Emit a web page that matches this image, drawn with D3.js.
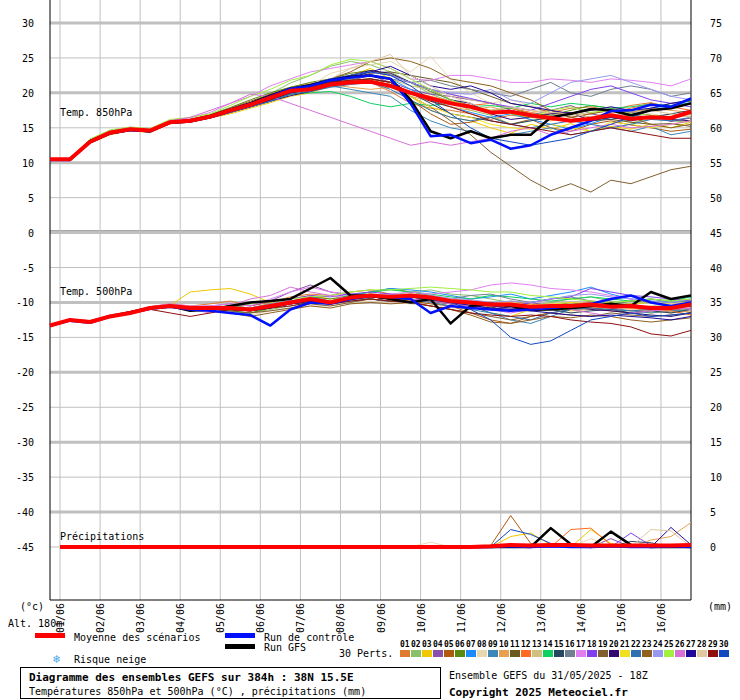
<!DOCTYPE html>
<html>
<head>
<meta charset="utf-8">
<script src="https://cdn.jsdelivr.net/npm/d3@7"></script>
<style>
body { margin:0; background:#fff; }
text { font-family:"DejaVu Sans Mono", monospace; font-size:10px; fill:#000; }
</style>
</head>
<body>
<svg id="chart" width="740" height="700"></svg>
<script>
// time steps every 12h from 31/05 18Z (0h) to 384h
var hours = d3.range(0, 385, 12);
var days = ["01/06","02/06","03/06","04/06","05/06","06/06","07/06","08/06","09/06","10/06","11/06","12/06","13/06","14/06","15/06","16/06"];
var leftTicks = [30,25,20,15,10,5,0,-5,-10,-15,-20,-25,-30,-35,-40,-45];
var rightTicks = [75,70,65,60,55,50,45,40,35,30,25,20,15,10,5,0];
var memberColors = ["#e07a30","#8bc06a","#f0c800","#8a4fa8","#b05a10","#5a8a10","#1a8cff","#e8d8b0","#3a88b8","#e8a050",
  "#6a5a20","#ff6a20","#d0c080","#10d060","#284860","#708090","#e080f0","#8040f0","#806030","#300870",
  "#f0e020","#3070b0","#906020","#9898f0","#a0f040","#d870d8","#200898","#e0c8a0","#901010","#1048c0"];

// 850 hPa
var mean850 = [10.5,10.5,13,14.3,14.8,14.6,15.8,16,16.6,17.5,18.3,19.3,20.3,20.5,21.2,21.5,21.6,21,20,19.2,18.5,18,17.2,17.3,16.8,16.4,16,16.3,16.8,16.3,16.5,16.4,17.3];
var ctrl850 = [10.4,10.4,13.0,14.2,14.7,14.5,15.8,16.0,16.6,17.5,18.4,19.5,20.6,21.0,21.8,22.2,22.5,22.0,18.5,13.8,14.0,12.8,13.3,12.0,12.5,14.0,15.0,16.0,17.4,17.5,18.3,18.0,19.2];
var gfs850 = [10.5,10.5,13.1,14.3,14.8,14.6,15.8,16.0,16.7,17.6,18.5,19.6,20.6,21.1,21.8,22.3,22.5,22.0,19.0,14.5,13.5,14.5,13.5,14.0,14.0,16.5,17.0,17.7,17.5,16.8,17.5,17.8,18.5];
var members850 = [
[10.4,10.6,13.2,14.5,14.7,14.4,15.9,16.2,16.8,17.8,18.6,19.8,20.8,21.3,22.0,22.4,21.5,20.2,18.5,17.8,17.5,17.0,16.2,16.8,16.5,17.2,17.8,18.0,17.5,18.2,18.6,17.9,18.4],
[10.6,10.4,13.4,14.2,15.0,14.8,16.0,16.1,16.7,17.3,18.5,19.9,21.4,22.5,23.8,24.5,24.0,23.0,21.5,19.8,18.8,17.5,16.8,15.5,16.0,16.5,15.8,16.2,16.9,15.7,16.3,16.0,15.8],
[10.3,10.5,12.8,14.0,14.6,14.3,15.6,15.8,16.4,17.0,17.8,18.6,19.5,20.0,21.0,22.5,23.5,22.0,19.5,17.5,16.5,16.0,15.0,14.2,15.5,14.8,15.6,14.5,15.2,14.8,15.5,15.0,15.8],
[10.5,10.3,13.1,14.4,14.9,14.7,15.7,16.0,16.5,17.6,18.0,18.8,19.8,20.2,21.0,21.8,22.5,21.5,20.5,19.8,19.5,19.0,18.6,17.5,16.8,17.5,18.2,17.0,16.5,17.2,16.8,15.9,16.4],
[10.4,10.5,12.9,14.3,14.8,14.5,15.8,15.9,16.6,17.4,18.2,19.0,20.0,20.4,21.4,21.8,22.0,21.5,19.0,17.0,15.5,15.8,16.5,15.5,16.2,15.0,14.5,15.5,16.0,15.4,15.0,14.5,14.8],
[10.6,10.6,13.3,14.6,15.0,14.8,16.0,16.2,16.9,17.9,19.0,20.0,20.8,21.5,22.0,22.8,23.2,22.6,21.5,20.2,19.0,18.2,17.5,17.8,17.0,16.8,17.5,18.2,17.8,17.2,17.8,18.5,18.8],
[10.5,10.4,13.0,14.2,14.7,14.6,15.9,16.1,16.5,17.5,18.4,19.5,20.5,21.0,21.5,22.0,22.5,22.0,20.5,19.0,18.0,17.2,16.5,17.0,16.2,15.5,14.8,15.6,16.5,17.2,17.8,18.2,18.6],
[10.3,10.5,12.9,14.1,14.6,14.5,15.7,15.9,16.7,17.2,18.2,19.0,20.2,21.0,22.8,23.5,24.0,24.5,23.0,25.2,22.0,20.0,18.5,19.0,18.2,17.5,16.8,17.5,18.0,17.5,17.0,16.5,16.8],
[10.5,10.5,13.1,14.4,14.9,14.6,15.9,16.0,16.6,17.6,18.5,19.5,20.5,20.8,21.0,20.5,20.0,19.5,17.5,16.0,15.0,14.5,13.5,14.0,14.5,15.0,14.0,14.5,15.0,14.5,15.2,14.0,14.5],
[10.4,10.6,13.2,14.4,14.8,14.7,15.9,16.1,16.7,17.7,18.6,19.4,20.6,21.0,21.2,20.8,20.5,20.8,19.5,18.8,18.0,17.5,18.0,17.2,16.5,16.0,16.5,17.0,17.5,17.2,17.8,17.5,17.2],
[10.5,10.4,13.0,14.3,14.7,14.5,15.8,16.0,16.5,17.3,18.0,19.0,20.0,20.5,21.5,22.0,22.8,23.0,22.5,22.0,21.5,20.5,19.5,18.5,18.0,17.2,16.5,16.0,16.2,15.8,15.5,15.6,15.2],
[10.6,10.5,13.1,14.5,14.9,14.8,16.0,16.2,16.8,17.5,18.3,19.2,20.3,20.5,21.0,21.5,21.8,21.2,20.2,19.5,18.8,18.2,18.5,17.8,17.2,17.5,17.0,16.5,17.2,17.8,18.5,18.0,17.5],
[10.4,10.5,13.0,14.2,14.7,14.6,15.7,16.0,16.6,17.4,18.4,19.4,20.4,20.8,21.5,22.0,22.5,22.0,21.0,20.5,19.8,19.0,18.5,17.8,17.5,17.0,16.8,17.2,17.5,16.8,16.5,17.0,16.5],
[10.5,10.5,13.2,14.4,14.8,14.6,15.8,16.1,16.6,17.6,18.3,19.0,19.8,20.0,20.2,19.5,18.5,18.0,18.5,18.2,18.5,18.0,18.2,17.8,18.5,18.0,18.5,18.2,17.8,18.0,18.4,18.2,18.5],
[10.3,10.4,12.8,14.1,14.6,14.4,15.6,15.8,16.4,17.2,18.0,19.0,20.0,20.5,21.0,21.5,22.0,21.5,20.0,18.5,17.0,16.5,16.0,15.5,16.0,16.5,17.0,16.5,16.2,16.8,16.5,17.0,17.5],
[10.5,10.6,13.1,14.5,14.9,14.7,15.9,16.2,16.8,17.5,18.4,19.5,20.4,21.0,21.5,22.0,22.5,22.0,21.5,21.8,21.0,20.5,20.0,19.5,20.5,21.5,20.0,19.5,20.5,21.0,20.5,19.5,20.0],
[10.6,10.5,13.3,14.6,15.1,14.9,16.1,16.4,17.2,18.5,19.5,21.0,22.0,23.0,23.5,24.0,24.5,23.5,22.0,21.8,22.5,22.5,22.0,21.5,21.5,22.0,21.8,21.5,22.0,21.8,21.5,21.0,22.0],
[10.4,10.5,13.0,14.3,14.8,14.5,15.8,16.0,16.6,17.6,18.5,19.5,20.6,21.2,22.0,22.5,23.0,22.5,21.5,20.5,19.8,19.2,18.5,18.0,17.5,18.5,19.5,20.5,21.0,20.0,19.0,18.5,18.0],
[10.5,10.4,13.0,14.3,14.7,14.6,15.8,16.0,16.6,17.5,18.2,19.2,20.2,20.8,21.5,21.8,22.0,21.5,19.5,18.0,16.0,14.0,11.5,9.5,7.5,6.0,7.0,5.8,7.5,7.0,8.0,9.0,9.5],
[10.4,10.3,12.8,14.1,14.6,14.4,15.6,15.8,16.4,17.2,18.0,18.8,19.6,20.2,21.0,22.5,23.2,22.8,21.5,20.5,19.0,18.5,17.0,16.2,16.5,17.0,17.2,16.0,16.5,16.0,16.5,16.2,16.0],
[10.5,10.5,13.1,14.4,14.8,14.6,15.8,16.1,16.6,17.5,18.3,19.3,20.2,20.6,21.0,21.5,21.8,21.0,19.5,18.0,17.0,16.5,15.5,15.0,14.8,15.5,15.0,14.5,15.8,15.5,15.0,15.5,16.0],
[10.4,10.5,12.9,14.2,14.7,14.5,15.7,15.9,16.5,17.2,18.0,18.8,19.8,20.2,20.8,21.2,21.5,20.5,19.0,17.5,16.5,16.0,16.5,15.5,15.0,15.5,16.0,15.5,15.0,15.5,16.2,16.0,16.5],
[10.5,10.6,13.2,14.5,14.9,14.7,15.9,16.2,16.8,17.8,18.8,19.8,20.6,21.2,22.0,23.0,24.5,25.0,24.5,23.5,22.0,21.5,21.0,20.0,19.0,17.5,16.5,17.0,17.5,16.5,15.5,15.0,15.5],
[10.5,10.5,13.1,14.4,14.8,14.7,15.9,16.1,16.7,17.6,18.4,19.6,20.5,21.0,21.8,22.5,23.0,22.5,21.5,20.5,20.0,19.8,20.5,19.0,18.5,20.0,21.5,22.0,22.5,21.5,20.5,19.5,19.0],
[10.6,10.6,13.4,14.7,15.1,14.9,16.2,16.5,17.0,18.2,19.5,20.5,21.8,22.5,24.0,24.8,24.5,23.5,22.0,20.5,19.0,18.0,17.5,17.0,16.5,17.5,18.0,17.2,17.5,17.0,16.8,16.5,17.0],
[10.5,10.4,13.0,14.4,14.8,14.6,16.0,16.5,17.5,18.5,19.8,19.5,18.5,17.5,16.5,15.5,14.5,13.5,12.5,13.0,12.5,13.0,13.5,14.5,15.0,14.0,14.5,15.0,15.5,15.0,15.2,15.5,16.0],
[10.4,10.4,12.9,14.2,14.7,14.5,15.7,15.9,16.5,17.3,18.2,19.0,20.0,20.5,21.5,22.2,23.0,23.8,22.5,21.0,20.5,21.0,20.0,18.5,18.0,17.5,17.0,17.5,18.0,17.5,17.8,18.5,19.0],
[10.5,10.5,13.1,14.4,14.8,14.6,15.8,16.0,16.6,17.5,18.3,19.3,20.2,21.0,22.0,23.5,24.5,25.5,22.5,21.0,19.5,18.5,17.5,18.0,17.5,17.2,17.0,16.5,17.0,16.8,17.5,17.0,16.5],
[10.4,10.5,13.0,14.3,14.8,14.5,15.8,16.0,16.6,17.4,18.2,19.2,20.2,20.8,21.5,21.8,22.0,21.5,20.0,18.8,18.0,17.0,16.0,15.5,15.0,14.5,14.0,14.5,15.0,14.5,14.0,13.5,13.5],
[10.5,10.5,13.1,14.4,14.8,14.6,15.9,16.1,16.7,17.7,18.6,19.6,20.6,21.2,22.0,22.5,23.0,22.5,21.0,19.0,17.0,15.0,13.5,13.0,12.5,13.0,13.5,14.5,15.5,16.5,17.5,18.0,19.0]
];

// 500 hPa
var mean500 = [-13.3,-12.5,-12.8,-12,-11.5,-10.8,-10.5,-10.8,-10.8,-10.8,-11,-10.5,-10,-9.5,-10,-9.3,-9,-9.2,-9,-9.3,-9.8,-10,-10.3,-10.3,-10.6,-10.5,-10.5,-10.3,-10.6,-10.5,-10.8,-10.8,-10.3];
var ctrl500 = [-13.3,-12.6,-12.9,-12.0,-11.5,-10.9,-10.6,-11.0,-11.2,-11.5,-11.8,-13.3,-11.0,-10.0,-10.2,-9.5,-9.0,-9.2,-9.5,-11.5,-10.5,-10.8,-11.0,-11.2,-11.0,-10.8,-10.5,-10.2,-9.5,-9.0,-10.0,-10.5,-10.0];
var gfs500 = [-13.3,-12.5,-12.8,-12.0,-11.4,-10.8,-10.5,-11.2,-11.0,-10.5,-10.0,-9.8,-9.5,-8.0,-6.5,-9.0,-9.0,-9.5,-10.0,-9.5,-13.0,-10.5,-10.2,-10.5,-11.0,-11.0,-10.8,-10.5,-10.2,-10.5,-8.5,-9.5,-9.0];
var members500 = [
[-13.2,-12.4,-12.6,-11.8,-11.3,-10.6,-10.2,-10.5,-10.2,-9.8,-10.5,-10.0,-9.2,-8.8,-9.0,-8.5,-8.2,-8.8,-9.5,-10.0,-10.5,-11.0,-10.5,-9.8,-10.2,-11.0,-10.5,-9.8,-10.0,-10.8,-11.2,-10.5,-10.0],
[-13.4,-12.6,-12.9,-12.1,-11.6,-10.9,-10.6,-10.9,-11.2,-11.5,-11.5,-11.0,-10.5,-10.0,-10.2,-9.5,-8.8,-9.0,-8.5,-8.2,-8.8,-9.0,-9.5,-10.0,-10.5,-10.0,-9.5,-9.2,-9.8,-10.2,-10.0,-9.5,-9.8],
[-13.3,-12.5,-12.7,-11.9,-11.4,-10.7,-10.4,-8.5,-8.2,-8.0,-8.8,-10.0,-9.5,-9.0,-9.5,-9.2,-8.8,-9.0,-9.2,-9.5,-10.0,-10.5,-11.5,-12.0,-11.0,-10.8,-11.2,-11.0,-10.5,-11.0,-11.5,-11.2,-11.0],
[-13.2,-12.4,-12.7,-11.9,-11.4,-10.7,-10.3,-10.6,-10.5,-10.2,-10.5,-9.8,-8.5,-7.5,-8.5,-9.0,-9.5,-10.0,-9.8,-9.5,-10.0,-10.5,-11.0,-10.5,-10.0,-10.5,-10.8,-11.0,-10.5,-10.2,-10.8,-11.0,-10.5],
[-13.4,-12.6,-12.8,-12.1,-11.6,-10.9,-10.7,-11.0,-11.2,-11.0,-11.2,-10.8,-10.2,-9.8,-10.0,-9.5,-9.2,-9.5,-9.8,-10.2,-10.5,-11.5,-12.5,-13.0,-12.0,-11.5,-11.0,-10.8,-11.2,-11.5,-11.0,-10.8,-11.5],
[-13.3,-12.5,-12.8,-12.0,-11.5,-10.8,-10.5,-10.8,-11.0,-11.2,-11.5,-10.8,-10.0,-9.2,-9.5,-9.0,-8.5,-8.0,-8.5,-9.0,-9.5,-10.0,-10.2,-10.5,-11.0,-10.5,-10.0,-10.5,-10.2,-9.8,-10.0,-10.5,-10.0],
[-13.3,-12.4,-12.7,-11.9,-11.4,-10.7,-10.4,-10.7,-10.8,-10.5,-10.8,-10.2,-9.8,-9.2,-9.8,-9.0,-8.5,-8.0,-8.2,-8.5,-9.0,-9.5,-9.2,-8.8,-9.5,-9.0,-8.5,-7.8,-8.8,-9.5,-9.8,-10.0,-9.5],
[-13.2,-12.5,-12.8,-12.0,-11.5,-10.9,-10.6,-10.9,-11.0,-11.5,-11.8,-11.2,-10.8,-10.5,-10.5,-10.0,-9.8,-10.0,-10.2,-10.5,-10.8,-10.5,-10.0,-10.2,-10.8,-11.0,-11.5,-11.0,-10.5,-11.0,-11.2,-11.5,-11.0],
[-13.4,-12.6,-12.9,-12.1,-11.6,-10.9,-10.6,-10.9,-11.0,-10.8,-11.0,-10.5,-10.0,-9.8,-10.2,-9.5,-9.5,-9.8,-9.5,-10.0,-10.5,-11.0,-11.5,-12.5,-13.0,-12.0,-11.0,-10.5,-10.8,-11.2,-11.5,-11.2,-11.0],
[-13.3,-12.5,-12.8,-12.0,-11.5,-10.8,-10.5,-10.8,-10.8,-10.5,-10.8,-10.2,-9.8,-9.5,-9.8,-9.2,-9.0,-9.2,-9.0,-9.5,-10.0,-10.2,-10.5,-10.5,-10.8,-10.5,-10.2,-10.8,-11.0,-11.2,-11.0,-11.5,-11.2],
[-13.3,-12.5,-12.8,-12.0,-11.4,-10.8,-10.5,-10.8,-11.0,-11.2,-11.0,-10.5,-10.2,-9.8,-10.0,-9.5,-9.2,-9.5,-9.2,-9.8,-10.2,-10.5,-10.8,-10.2,-10.5,-10.8,-11.0,-10.5,-10.2,-10.5,-10.8,-11.0,-10.8],
[-13.2,-12.4,-12.7,-11.9,-11.4,-10.7,-10.4,-10.7,-10.8,-10.8,-11.0,-10.5,-10.0,-9.8,-10.0,-9.5,-9.0,-9.2,-9.0,-9.2,-9.5,-9.8,-10.0,-10.2,-10.5,-10.2,-10.5,-10.8,-10.5,-10.8,-11.0,-11.2,-11.8],
[-13.3,-12.5,-12.8,-12.0,-11.5,-10.8,-10.5,-10.8,-10.9,-10.8,-11.0,-10.6,-10.0,-9.6,-10.0,-9.4,-9.0,-9.2,-9.0,-9.4,-9.8,-10.0,-10.2,-10.4,-10.6,-10.5,-10.5,-10.4,-10.6,-10.5,-10.8,-10.9,-10.4],
[-13.3,-12.5,-12.8,-12.0,-11.5,-10.8,-10.5,-10.8,-10.8,-10.5,-10.8,-10.2,-9.8,-9.5,-9.8,-9.0,-8.5,-8.2,-8.5,-8.8,-9.2,-9.5,-9.0,-9.2,-9.5,-9.8,-9.5,-9.2,-9.5,-9.8,-9.5,-9.8,-9.2],
[-13.4,-12.6,-12.9,-12.1,-11.6,-10.9,-10.6,-10.9,-11.0,-11.0,-11.2,-10.8,-10.2,-10.0,-10.2,-9.8,-9.5,-9.8,-9.5,-9.8,-10.2,-10.5,-10.8,-11.0,-11.2,-11.0,-11.5,-11.2,-11.0,-11.5,-11.2,-11.5,-11.0],
[-13.3,-12.5,-12.8,-12.0,-11.5,-10.8,-10.5,-10.8,-10.8,-10.8,-11.0,-10.5,-10.0,-9.5,-10.0,-9.3,-9.0,-9.2,-9.0,-9.2,-9.5,-9.0,-8.8,-9.5,-10.0,-9.5,-9.2,-9.8,-10.2,-9.8,-9.5,-10.0,-9.8],
[-13.2,-12.4,-12.6,-11.8,-11.3,-10.6,-10.2,-10.5,-10.5,-10.2,-10.5,-9.5,-8.5,-7.8,-8.5,-8.8,-9.0,-8.8,-8.5,-8.8,-8.5,-8.2,-7.5,-7.2,-7.5,-8.0,-8.2,-8.5,-9.0,-9.5,-10.0,-10.5,-11.0],
[-13.3,-12.5,-12.8,-12.0,-11.5,-10.8,-10.5,-10.8,-10.8,-10.5,-10.2,-9.8,-9.5,-9.0,-9.2,-8.8,-8.5,-8.8,-9.0,-9.2,-9.5,-9.8,-10.2,-10.5,-10.0,-9.5,-9.2,-8.0,-8.5,-9.0,-9.2,-9.5,-9.8],
[-13.3,-12.5,-12.8,-12.0,-11.5,-10.8,-10.5,-10.8,-11.0,-11.2,-11.5,-11.2,-10.8,-10.2,-10.5,-10.0,-9.5,-9.8,-10.0,-10.5,-11.0,-11.5,-12.0,-12.5,-12.0,-11.5,-11.8,-12.0,-11.5,-11.8,-12.0,-11.8,-11.5],
[-13.4,-12.6,-12.9,-12.1,-11.6,-10.9,-10.6,-10.9,-11.0,-10.8,-11.0,-10.6,-10.2,-9.8,-10.0,-9.5,-9.2,-9.5,-9.0,-9.5,-10.0,-10.2,-10.5,-10.8,-11.0,-10.8,-10.5,-11.0,-11.2,-11.5,-11.8,-12.0,-11.5],
[-13.3,-12.5,-12.8,-12.0,-11.5,-10.8,-10.5,-10.8,-10.8,-10.6,-10.8,-10.4,-10.0,-9.6,-9.8,-9.4,-9.0,-9.2,-9.0,-9.2,-9.6,-10.0,-10.2,-10.0,-10.4,-10.2,-10.0,-10.2,-10.4,-10.2,-10.0,-10.2,-10.0],
[-13.3,-12.5,-12.8,-12.0,-11.5,-10.8,-10.5,-10.8,-10.9,-10.9,-11.0,-10.6,-10.0,-9.6,-10.0,-9.4,-9.0,-9.2,-9.2,-9.6,-10.0,-10.5,-11.5,-12.0,-12.5,-11.5,-11.0,-10.8,-11.0,-11.2,-11.0,-10.8,-10.5],
[-13.2,-12.4,-12.7,-11.9,-11.4,-10.7,-10.4,-10.7,-10.8,-11.5,-12.0,-11.5,-11.0,-10.5,-10.8,-10.2,-10.0,-10.2,-10.0,-10.5,-11.0,-11.8,-12.8,-13.0,-12.5,-12.0,-12.2,-11.8,-12.0,-12.5,-12.8,-12.5,-12.2],
[-13.3,-12.5,-12.8,-12.0,-11.5,-10.8,-10.5,-10.8,-10.8,-10.6,-10.8,-10.2,-9.8,-9.4,-9.8,-9.2,-8.8,-9.0,-8.8,-9.0,-9.4,-9.6,-10.0,-9.8,-10.0,-9.5,-9.0,-8.8,-9.2,-9.5,-9.8,-10.0,-9.5],
[-13.3,-12.5,-12.8,-12.0,-11.5,-10.8,-10.5,-10.8,-10.8,-10.5,-10.2,-9.8,-9.5,-9.2,-9.0,-8.5,-8.2,-8.2,-8.0,-7.8,-8.0,-8.2,-8.5,-8.5,-9.0,-9.2,-9.5,-9.8,-10.0,-9.8,-9.5,-9.8,-9.5],
[-13.3,-12.5,-12.8,-12.0,-11.5,-10.8,-10.5,-11.0,-11.5,-10.5,-9.5,-9.0,-7.8,-8.5,-9.0,-9.5,-9.0,-9.2,-9.5,-9.8,-10.2,-10.5,-11.0,-11.5,-11.0,-10.5,-11.0,-11.5,-12.0,-11.5,-11.2,-11.0,-10.8],
[-13.4,-12.6,-12.9,-12.1,-11.6,-10.9,-10.6,-10.9,-11.0,-11.0,-11.2,-10.8,-10.2,-9.8,-10.2,-9.6,-9.2,-9.5,-9.2,-9.6,-10.0,-10.4,-10.8,-11.0,-11.2,-11.5,-11.8,-12.0,-11.8,-12.0,-12.2,-12.5,-12.0],
[-13.3,-12.5,-12.8,-12.0,-11.5,-10.8,-10.5,-10.8,-10.9,-10.8,-11.0,-10.5,-10.0,-9.5,-9.8,-9.2,-8.8,-9.0,-8.8,-9.2,-9.5,-9.8,-10.2,-10.0,-10.5,-10.2,-10.5,-10.2,-10.5,-10.8,-10.5,-10.2,-10.0],
[-13.3,-12.5,-12.8,-12.0,-11.5,-11.0,-11.5,-12.0,-11.5,-11.0,-11.2,-10.8,-10.5,-10.0,-10.2,-9.8,-9.5,-9.8,-10.0,-10.5,-11.0,-11.5,-11.8,-12.0,-11.8,-12.0,-12.5,-12.8,-13.0,-13.5,-14.5,-14.8,-14.0],
[-13.3,-12.5,-12.8,-12.0,-11.5,-10.8,-10.5,-10.8,-10.8,-10.8,-11.0,-10.5,-10.0,-9.5,-10.0,-9.2,-9.0,-9.2,-9.0,-9.5,-10.0,-11.0,-12.5,-15.0,-16.0,-15.5,-14.0,-12.5,-12.0,-11.5,-12.0,-11.8,-11.5]
];

// precipitation (mm); members not listed stay dry (0 mm)
var pcpMean = [0,0,0,0,0,0,0,0,0,0,0,0,0,0,0,0,0,0,0,0,0,0,0.1,0.3,0.2,0.3,0.3,0.2,0.2,0.2,0.2,0.2,0.3];
var pcpCtrl = [0,0,0,0,0,0,0,0,0,0,0,0,0,0,0,0,0,0,0,0,0,0,0,0.1,0,0.1,0,0,0.1,0,0,0.1,0];
var pcpGfs  = [0,0,0,0,0,0,0,0,0,0,0,0,0,0,0,0,0,0,0,0,0,0,0,0,0,2.7,0.4,0,2.2,0.3,0,0,0];
var pcpMembers = {
  3:  [0,0,0,0,0,0,0,0,0,0,0,0,0,0,0,0,0,0,0,0,0,0,0,1.5,2.0,0.3,0,2.5,0.5,0,0,0,0],
  4:  [0,0,0,0,0,0,0,0,0,0,0,0,0,0,0,0,0,0,0,0,0,0,0,0,0,0,0,0,1.2,0,0,0,0],
  5:  [0,0,0,0,0,0,0,0,0,0,0,0,0,0,0,0,0,0,0,0,0,0,0.2,4.5,0.5,0.1,0,0,0,0,0,0,0],
  8:  [0,0,0,0,0,0,0,0,0,0,0,0,0,0,0,0,0,0,0,0.7,0,0,0,0,0,0,0,1.2,0,0,0,0,0],
  10: [0,0,0,0,0,0,0,0,0,0,0,0,0,0,0,0,0,0,0,0,0,0,0,0,0,0,0,0,0,0,1.0,1.5,3.5],
  12: [0,0,0,0,0,0,0,0,0,0,0,0,0,0,0,0,0,0,0,0,0,0,0,0,0,0,2.5,2.7,0.3,0,0,0,0],
  15: [0,0,0,0,0,0,0,0,0,0,0,0,0,0,0,0,0,0,0,0,0,0,0,0,0,0,0,0,0,0.8,0.6,0,0],
  18: [0,0,0,0,0,0,0,0,0,0,0,0,0,0,0,0,0,0,0,0,0,0,0,0,0,0,0,0,0,2.0,0.2,0,0],
  27: [0,0,0,0,0,0,0,0,0,0,0,0,0,0,0,0,0,0,0,0,0,0,0,0,0,0,0,0,0,0,0,2.8,0.3],
  28: [0,0,0,0,0,0,0,0,0,0,0,0,0,0,0,0,0,0,0,0,0,0,0,0,0,0,0,0,0,0,2.5,2.3,0],
  30: [0,0,0,0,0,0,0,0,0,0,0,0,0,0,0,0,0,0,0,0,0,0,0,2.5,1.8,0.5,0,0,0,0,0,0,0]
};

var svg = d3.select('#chart');
var x = d3.scaleLinear().domain([0, 384]).range([50, 691]);
var y = d3.scaleLinear().domain([30, -45]).range([23, 547]);
var yPcp = function(mm) { return y(-45 + mm); };

// grid
svg.selectAll('line.hg').data(leftTicks).enter().append('line')
  .attr('x1', 50).attr('x2', 691)
  .attr('y1', function(d) { return y(d); }).attr('y2', function(d) { return y(d); })
  .attr('stroke', '#c0c0c0').attr('stroke-width', function(d) { return d % 10 === 0 ? 3 : 1; });
svg.append('line').attr('x1', 50).attr('x2', 691).attr('y1', y(0) - 2).attr('y2', y(0) - 2)
  .attr('stroke', '#a0a0a0').attr('stroke-width', 1);
svg.selectAll('line.vg').data(days).enter().append('line')
  .attr('x1', function(d, i) { return x(6 + 24 * i); }).attr('x2', function(d, i) { return x(6 + 24 * i); })
  .attr('y1', 0).attr('y2', 600).attr('stroke', '#c0c0c0');

// axes frame
svg.append('line').attr('x1', 50).attr('x2', 50).attr('y1', 0).attr('y2', 600).attr('stroke', '#000');
svg.append('line').attr('x1', 691).attr('x2', 691).attr('y1', 0).attr('y2', 600).attr('stroke', '#000');
svg.append('line').attr('x1', 50).attr('x2', 691).attr('y1', 600).attr('y2', 600).attr('stroke', '#000');

svg.selectAll('text.lt').data(leftTicks).enter().append('text')
  .attr('x', 34).attr('y', function(d) { return y(d) + 4; }).attr('text-anchor', 'end').text(function(d) { return d; });
svg.selectAll('text.rt').data(rightTicks).enter().append('text')
  .attr('x', 710).attr('y', function(d) { return y(d - 45) + 4; }).text(function(d) { return d; });
svg.selectAll('text.day').data(days).enter().append('text')
  .attr('transform', function(d, i) { return 'translate(' + (x(6 + 24 * i) + 4) + ',603) rotate(-90)'; })
  .attr('text-anchor', 'end').text(function(d) { return d; });

svg.append('text').attr('x', 20).attr('y', 610).text('(°c)');
svg.append('text').attr('x', 708).attr('y', 610).text('(mm)');
svg.append('text').attr('x', 8).attr('y', 627).text('Alt. 180m');
svg.append('text').attr('x', 60).attr('y', 116).text('Temp. 850hPa');
svg.append('text').attr('x', 60).attr('y', 295).text('Temp. 500hPa');
svg.append('text').attr('x', 60).attr('y', 540).text('Précipitations');

// series (precip drawn from 6h on)
var line = d3.line().x(function(d, i) { return x(hours[i]); }).y(function(d) { return y(d); });
var pline = d3.line().x(function(d, i) { return x(Math.max(hours[i], 6)); }).y(function(d) { return yPcp(d); });
function draw(gen, data, color, w) {
  svg.append('path').attr('d', gen(data)).attr('fill', 'none')
    .attr('stroke', color).attr('stroke-width', w).attr('stroke-linejoin', 'round');
}
members850.forEach(function(m, i) { draw(line, m, memberColors[i], 1); });
members500.forEach(function(m, i) { draw(line, m, memberColors[i], 1); });
Object.keys(pcpMembers).forEach(function(k) { draw(pline, pcpMembers[k], memberColors[k - 1], 1); });
[[gfs850, gfs500, pcpGfs, '#000'], [ctrl850, ctrl500, pcpCtrl, '#0010ff']].forEach(function(r) {
  draw(line, r[0], r[3], 2.5); draw(line, r[1], r[3], 2.5); draw(pline, r[2], r[3], 2.5);
});
draw(line, mean850, '#ff0000', 4);
draw(line, mean500, '#ff0000', 4);
draw(pline, pcpMean, '#ff0000', 4);

// legend
svg.append('rect').attr('x', 35).attr('y', 633).attr('width', 30).attr('height', 5).attr('fill', '#ff0000');
svg.append('text').attr('x', 74).attr('y', 641).text('Moyenne des scénarios');
svg.append('rect').attr('x', 225).attr('y', 633).attr('width', 30).attr('height', 5).attr('fill', '#0010ff');
svg.append('text').attr('x', 264).attr('y', 641).text('Run de contrôle');
svg.append('rect').attr('x', 225).attr('y', 644).attr('width', 30).attr('height', 5).attr('fill', '#000');
svg.append('text').attr('x', 264).attr('y', 651).text('Run GFS');
svg.append('text').attr('x', 53).attr('y', 663).style('fill', '#4aa8e8').style('font-size', '12px').text('❄');
svg.append('text').attr('x', 74).attr('y', 663).text('Risque neige');
svg.append('text').attr('x', 339).attr('y', 657).text('30 Perts.');
svg.selectAll('text.pn').data(memberColors).enter().append('text')
  .attr('x', function(d, i) { return 400 + i * 11; }).attr('y', 647)
  .style('font-size', '8px').style('font-weight', 'bold')
  .text(function(d, i) { return d3.format('02d')(i + 1); });
svg.selectAll('rect.sw').data(memberColors).enter().append('rect')
  .attr('x', function(d, i) { return 400 + i * 11; }).attr('y', 650).attr('width', 10).attr('height', 7)
  .attr('fill', function(d) { return d; });

svg.append('rect').attr('x', 20.5).attr('y', 667.5).attr('width', 420).attr('height', 31).attr('fill', 'none').attr('stroke', '#000');
svg.append('text').attr('x', 29).attr('y', 681).style('font-weight', 'bold').style('font-size', '11px').text('Diagramme des ensembles GEFS sur 384h : 38N 15.5E');
svg.append('text').attr('x', 29).attr('y', 695).text('Températures 850hPa et 500hPa (°C) , précipitations (mm)');
svg.append('text').attr('x', 449).attr('y', 679).text('Ensemble GEFS du 31/05/2025 - 18Z');
svg.append('text').attr('x', 449).attr('y', 696).style('font-weight', 'bold').style('font-size', '11px').text('Copyright 2025 Meteociel.fr');
</script>
</body>
</html>
